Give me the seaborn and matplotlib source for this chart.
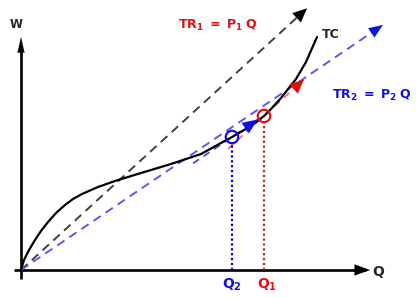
import matplotlib
matplotlib.use("Agg")
import matplotlib.pyplot as plt
import seaborn as sns
import pandas as pd

# ---- data ----
tc_q = [0, 3, 8, 14, 20, 27, 35, 44, 52, 61, 77, 94, 120, 150, 180, 211, 230, 243, 250, 260, 275, 285, 296]
tc_cost = [0, 10, 20, 30, 39, 48, 57, 65, 71, 76, 83, 89, 97, 106, 116, 133, 144, 154, 161, 172, 191, 208, 233]
p1 = 0.915          # slope of TR1
p2 = 0.677          # slope of TR2
tr1_qmax = 286
tr2_qmax = 362
q2, tc_q2 = 211, 133
q1, tc_q1 = 243, 154
tan2_range = [172, 237]   # tangent at Q2 (slope p2)
tan1_range = [207, 283]   # tangent at Q1 (slope p1)
labels = {"w": "W", "q": "Q", "tc": "TC"}

sns.set_style("white")
plt.rcParams["mathtext.fontset"] = "custom"
plt.rcParams["mathtext.bf"] = "DejaVu Sans:bold"
plt.rcParams["mathtext.rm"] = "DejaVu Sans:bold"

fig = plt.figure(figsize=(4.16, 2.98), dpi=100)
ax = fig.add_axes([0, 0, 1, 1])
ax.set_xlim(-21, 395)
ax.set_ylim(-28, 270)
ax.set_axis_off()

RED = "#e01010"
BLUE = "#1010e0"

# axes with arrowheads
ax.plot([-7, 345], [0, 0], color="black", lw=1.9, solid_capstyle="butt")
ax.plot([0, 0], [-9, 220], color="black", lw=1.9, solid_capstyle="butt")
ax.annotate("", xy=(349, 0), xytext=(330, 0),
            arrowprops=dict(arrowstyle="-|>,head_length=1.1,head_width=0.4", color="black", lw=0.1, shrinkA=0, shrinkB=0))
ax.annotate("", xy=(0, 233), xytext=(0, 210),
            arrowprops=dict(arrowstyle="-|>,head_length=1.1,head_width=0.25", color="black", lw=0.1, shrinkA=0, shrinkB=0))

# TR1 (black dashed)
tr1 = pd.DataFrame({"q": [0, tr1_qmax - 6], "c": [0, p1 * (tr1_qmax - 6)]})
sns.lineplot(data=tr1, x="q", y="c", ax=ax, color="#404040", lw=1.4, linestyle=(0, (4.5, 3)))
ax.annotate("", xy=(tr1_qmax, p1 * tr1_qmax), xytext=(tr1_qmax - 12, p1 * (tr1_qmax - 12)),
            arrowprops=dict(arrowstyle="-|>,head_length=1.0,head_width=0.45", color="black", lw=0.1, shrinkA=0, shrinkB=0))

# TR2 (blue dashed)
tr2 = pd.DataFrame({"q": [0, tr2_qmax - 6], "c": [0, p2 * (tr2_qmax - 6)]})
sns.lineplot(data=tr2, x="q", y="c", ax=ax, color="#5a5ae6", lw=1.4, linestyle=(0, (4.5, 3)))
ax.annotate("", xy=(tr2_qmax, p2 * tr2_qmax), xytext=(tr2_qmax - 12, p2 * (tr2_qmax - 12)),
            arrowprops=dict(arrowstyle="-|>,head_length=1.0,head_width=0.4", color=BLUE, lw=0.1, shrinkA=0, shrinkB=0))

# tangent at Q1 (red dashed)
t1 = pd.DataFrame({"q": tan1_range, "c": [tc_q1 + p1 * (x - q1) for x in tan1_range]})
sns.lineplot(data=t1, x="q", y="c", ax=ax, color="#ee7070", lw=1.3, linestyle=(0, (4, 3)))
ax.annotate("", xy=(tan1_range[1], tc_q1 + p1 * (tan1_range[1] - q1)),
            xytext=(tan1_range[1] - 14, tc_q1 + p1 * (tan1_range[1] - 14 - q1)),
            arrowprops=dict(arrowstyle="-|>,head_length=1.0,head_width=0.45", color=RED, lw=0.1, shrinkA=0, shrinkB=0))

# tangent at Q2 (blue dashed)
t2 = pd.DataFrame({"q": tan2_range, "c": [tc_q2 + p2 * (x - q2) for x in tan2_range]})
sns.lineplot(data=t2, x="q", y="c", ax=ax, color="#4848e8", lw=1.3, linestyle=(0, (4, 3)))
ax.annotate("", xy=(tan2_range[1], tc_q2 + p2 * (tan2_range[1] - q2)),
            xytext=(tan2_range[1] - 16, tc_q2 + p2 * (tan2_range[1] - 16 - q2)),
            arrowprops=dict(arrowstyle="-|>,head_length=1.1,head_width=0.45", color=BLUE, lw=0.1, shrinkA=0, shrinkB=0))

# TC curve
tc = pd.DataFrame({"q": tc_q, "c": tc_cost})
sns.lineplot(data=tc, x="q", y="c", ax=ax, color="black", lw=1.6, sort=False)

# dotted drop lines
ax.plot([q2, q2], [0, tc_q2 - 5], color="#0000d0", lw=1.6, linestyle=(0, (1, 1.2)))
ax.plot([q1, q1], [0, tc_q1 - 5], color="#c02828", lw=1.6, linestyle=(0, (1, 1.2)))

# circles
pts = pd.DataFrame({"q": [q2, q1], "c": [tc_q2, tc_q1], "k": ["Q2", "Q1"]})
sns.scatterplot(data=pts, x="q", y="c", hue="k", palette={"Q2": BLUE, "Q1": RED},
                s=80, facecolors="none", linewidth=1.6, legend=False, ax=ax, zorder=5)
for coll in ax.collections:
    coll.set_facecolor("none")
    coll.set_edgecolor([BLUE, RED])

fs = 10
ax.text(-5, 246, labels["w"], fontsize=8.5, fontweight="bold", ha="center", va="center")
ax.text(357, -2, labels["q"], fontsize=fs, fontweight="bold", ha="center", va="center")
ax.text(310, 236, labels["tc"], fontsize=fs - 1, fontweight="bold", ha="center", va="center")
ax.text(157, 245, r"$\mathbf{TR_1\ =\ P_1\ Q}$", fontsize=9, color=RED, ha="left", va="center")
ax.text(311, 175, r"$\mathbf{TR_2\ =\ P_2\ Q}$", fontsize=9, color=BLUE, ha="left", va="center")
ax.text(q2 - 10, -15, r"$\mathbf{Q_2}$", fontsize=fs, color=BLUE, ha="left", va="center")
ax.text(q1 - 7, -15, r"$\mathbf{Q_1}$", fontsize=fs, color=RED, ha="left", va="center")

fig.savefig("out.png", dpi=100)
